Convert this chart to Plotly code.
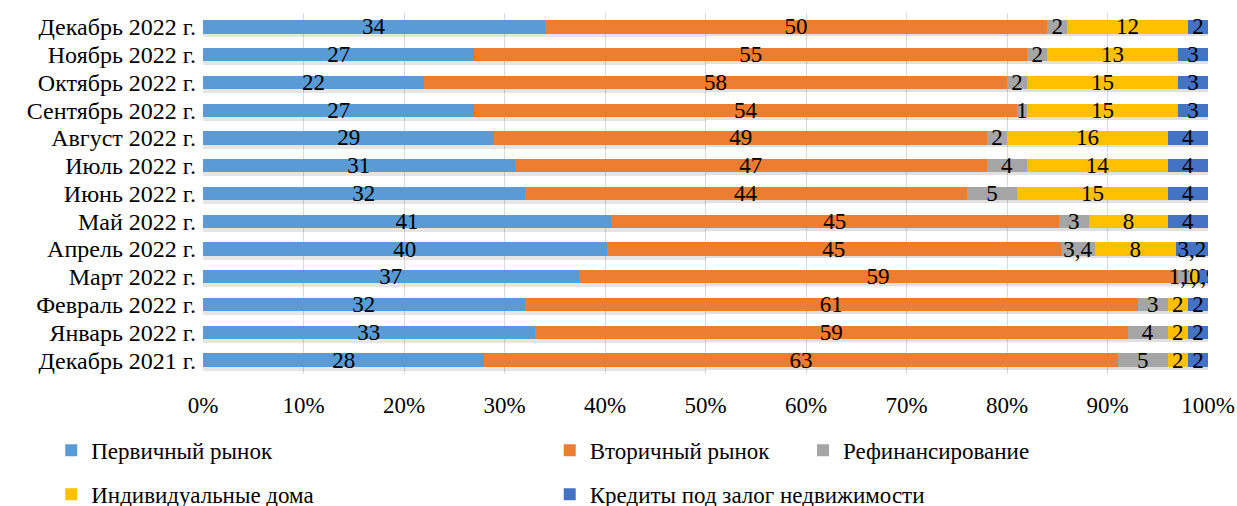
import plotly.graph_objects as go

# Structure of mortgage issuance by segment, monthly shares (%)
months = [
    "Декабрь 2022 г.", "Ноябрь 2022 г.", "Октябрь 2022 г.", "Сентябрь 2022 г.",
    "Август 2022 г.", "Июль 2022 г.", "Июнь 2022 г.", "Май 2022 г.",
    "Апрель 2022 г.", "Март 2022 г.", "Февраль 2022 г.", "Январь 2022 г.",
    "Декабрь 2021 г.",
]

# values as printed (comma decimal separator)
primary = ["34", "27", "22", "27", "29", "31", "32", "41", "40", "37", "32", "33", "28"]
secondary = ["50", "55", "58", "54", "49", "47", "44", "45", "45", "59", "61", "59", "63"]
refinancing = ["2", "2", "2", "1", "2", "4", "5", "3", "3,4", "1,1", "3", "4", "5"]
houses = ["12", "13", "15", "15", "16", "14", "15", "8", "8", "1,0", "2", "2", "2"]
secured = ["2", "3", "3", "3", "4", "4", "4", "4", "3,2", "0,9", "2", "2", "2"]

tick_values = [0, 10, 20, 30, 40, 50, 60, 70, 80, 90, 100]
tick_labels = ["0%", "10%", "20%", "30%", "40%", "50%", "60%", "70%", "80%", "90%", "100%"]

series = [
    ("Первичный рынок", primary, "#5B9BD5", "legend", "a"),
    ("Вторичный рынок", secondary, "#ED7D31", "legend2", "b"),
    ("Рефинансирование", refinancing, "#A5A5A5", "legend3", "c"),
    ("Индивидуальные дома", houses, "#FFC000", "legend", "d"),
    ("Кредиты под залог недвижимости", secured, "#4472C4", "legend2", "e"),
]

serif = "Liberation Serif, Times New Roman, serif"
BAR_WIDTH = 0.48


def to_num(s):
    return float(s.replace(",", "."))


fig = go.Figure()

# soft drop shadow under each full row (drawn on the base axis, beneath the bars)
row_totals = [sum(to_num(s[1][i]) for s in series) for i in range(len(months))]
for shift, alpha in ((0.14, 0.10), (0.10, 0.12)):
    fig.add_trace(go.Bar(
        y=months,
        x=row_totals,
        orientation="h",
        width=BAR_WIDTH,
        offset=-BAR_WIDTH / 2 + shift,
        marker=dict(color=f"rgba(0,0,0,{alpha})", line=dict(width=0)),
        showlegend=False,
        hoverinfo="skip",
        yaxis="y",
    ))

for name, vals, color, leg, grp in series:
    fig.add_trace(go.Bar(
        y=months,
        x=[to_num(v) for v in vals],
        text=vals,
        name=name,
        orientation="h",
        width=BAR_WIDTH,
        marker=dict(color=color, line=dict(width=0)),
        textposition="inside",
        insidetextanchor="middle",
        textangle=0,
        textfont=dict(family=serif, size=23, color="#000000"),
        legend=leg,
        legendgroup=grp,
        hoverinfo="skip",
        yaxis="y2",
    ))

legend_common = dict(
    orientation="v",
    xanchor="left",
    yanchor="top",
    y=-0.152,
    font=dict(family=serif, size=23, color="#000000"),
    bgcolor="rgba(0,0,0,0)",
    itemwidth=30,
    tracegroupgap=11,
    traceorder="grouped",
)

fig.update_layout(
    width=1237,
    height=506,
    margin=dict(l=203, r=29, t=13, b=132, autoexpand=False),
    barmode="overlay",
    plot_bgcolor="white",
    paper_bgcolor="white",
    font=dict(family=serif, size=23, color="#000000"),
    uniformtext=dict(minsize=23, mode="show"),
    showlegend=True,
    legend=dict(**legend_common, x=-0.151),
    legend2=dict(**legend_common, x=0.345),
    legend3=dict(**legend_common, x=0.597),
    xaxis=dict(
        range=[0, 100],
        tickvals=tick_values,
        ticktext=tick_labels,
        showgrid=True,
        gridcolor="#D9D9D9",
        gridwidth=1,
        zeroline=False,
        ticks="outside",
        ticklen=10,
        tickcolor="rgba(0,0,0,0)",
        tickfont=dict(family=serif, size=23, color="#000000"),
        automargin=False,
        fixedrange=True,
    ),
    yaxis=dict(
        autorange="reversed",
        tickmode="linear",
        tick0=0,
        dtick=1,
        showgrid=False,
        ticks="",
        ticklabelstandoff=6,
        tickfont=dict(family=serif, size=24, color="#000000"),
        automargin=False,
        fixedrange=True,
    ),
    yaxis2=dict(
        overlaying="y",
        matches="y",
        showticklabels=False,
        showgrid=False,
        ticks="",
        automargin=False,
        fixedrange=True,
    ),
)

# the segment bars are stacked and normalised to 100 % per month
fig.update_layout(barmode="stack", barnorm="percent")

fig.write_html("out.html")
